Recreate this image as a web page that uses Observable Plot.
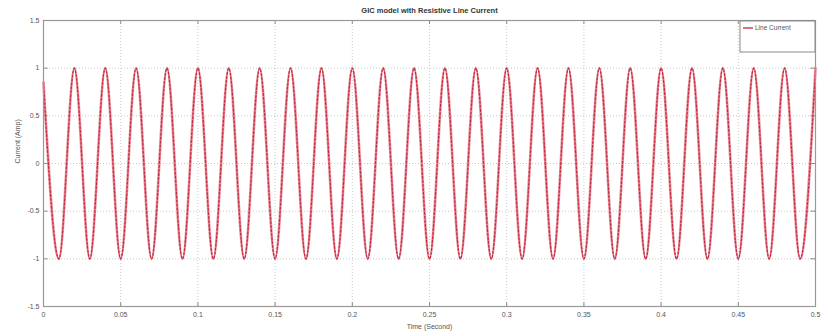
<!DOCTYPE html>
<html>
<head>
<meta charset="utf-8">
<script src="https://cdn.jsdelivr.net/npm/d3@7"></script>
<script src="https://cdn.jsdelivr.net/npm/@observablehq/plot@0.6"></script>
<style>
  html, body { margin: 0; padding: 0; background: #fff; }
  #chart { position: relative; width: 831px; height: 335px; }
  svg { font-family: "Liberation Sans", Arial, sans-serif; }
</style>
</head>
<body>
<div id="chart"></div>
<script>
// Line current waveform: start value, then alternating troughs and peaks
const timeSec = [0,
  0.01, 0.02, 0.03, 0.04, 0.05, 0.06, 0.07, 0.08, 0.09, 0.10,
  0.11, 0.12, 0.13, 0.14, 0.15, 0.16, 0.17, 0.18, 0.19, 0.20,
  0.21, 0.22, 0.23, 0.24, 0.25, 0.26, 0.27, 0.28, 0.29, 0.30,
  0.31, 0.32, 0.33, 0.34, 0.35, 0.36, 0.37, 0.38, 0.39, 0.40,
  0.41, 0.42, 0.43, 0.44, 0.45, 0.46, 0.47, 0.48, 0.49, 0.50];
const currentAmp = [0.85,
  -1, 1, -1, 1, -1, 1, -1, 1, -1, 1,
  -1, 1, -1, 1, -1, 1, -1, 1, -1, 1,
  -1, 1, -1, 1, -1, 1, -1, 1, -1, 1,
  -1, 1, -1, 1, -1, 1, -1, 1, -1, 1,
  -1, 1, -1, 1, -1, 1, -1, 1, -1, 1];
const xTicks = [0, 0.05, 0.1, 0.15, 0.2, 0.25, 0.3, 0.35, 0.4, 0.45, 0.5];
const xTickLabels = ["0", "0.05", "0.1", "0.15", "0.2", "0.25", "0.3", "0.35", "0.4", "0.45", "0.5"];
const yTicks = [-1.5, -1, -0.5, 0, 0.5, 1, 1.5];
const yTickLabels = ["-1.5", "-1", "-0.5", "0", "0.5", "1", "1.5"];
const titleText = "GIC model with Resistive Line Current";
const xLabel = "Time (Second)";
const yLabel = "Current (Amp)";
const seriesName = "Line Current";

const data = timeSec.map((t, i) => ({t, v: currentAmp[i]}));
const fmtX = d => xTickLabels[xTicks.indexOf(d)];
const fmtY = d => yTickLabels[yTicks.indexOf(d)];

const chart = Plot.plot({
  width: 831,
  height: 335,
  marginLeft: 43,
  marginRight: 16,
  marginTop: 20,
  marginBottom: 29,
  style: {fontSize: "7px", color: "#555", background: "#fff"},
  x: {domain: [0, 0.5], label: null},
  y: {domain: [-1.5, 1.5], label: null},
  marks: [
    Plot.gridX(xTicks, {stroke: "#bbb", strokeOpacity: 1, strokeDasharray: "1,2", strokeWidth: 0.8}),
    Plot.gridY(yTicks, {stroke: "#bbb", strokeOpacity: 1, strokeDasharray: "1,2", strokeWidth: 0.8}),
    // inward tick marks (MATLAB style) on bottom/top and left/right
    Plot.ruleX(xTicks, {x: d => d, y1: -1.5, y2: -1.46, stroke: "#888"}),
    Plot.ruleX(xTicks, {x: d => d, y1: 1.5, y2: 1.46, stroke: "#888"}),
    Plot.ruleY(yTicks, {y: d => d, x1: 0, x2: 0.003, stroke: "#888"}),
    Plot.ruleY(yTicks, {y: d => d, x1: 0.5, x2: 0.497, stroke: "#888"}),
    Plot.line(data, {x: "t", y: "v", curve: "monotone-x", stroke: "#ea8c98", strokeWidth: 2.6}),
    Plot.line(data, {x: "t", y: "v", curve: "monotone-x", stroke: "#c22a40", strokeWidth: 1.2, strokeDasharray: "2,2"}),
    Plot.frame({stroke: "#999", strokeWidth: 1.2}),
    Plot.axisX({ticks: xTicks, tickFormat: fmtX, tickSize: 0, tickPadding: 6, label: null, anchor: "bottom"}),
    Plot.axisY({ticks: yTicks, tickFormat: fmtY, tickSize: 0, tickPadding: 4, label: null, anchor: "left"}),
    Plot.text([titleText], {frameAnchor: "top", dy: -13, fontWeight: "bold", fontSize: 7.5, fill: "#333"}),
    Plot.text([xLabel], {frameAnchor: "bottom", dy: 22, fontSize: 7, fill: "#555"}),
    Plot.text([yLabel], {frameAnchor: "left", dx: -26, rotate: -90, fontSize: 7, fill: "#555"})
  ]
});
document.getElementById("chart").appendChild(chart);

// Legend box in the upper right corner of the plot frame
const svg = d3.select(chart);
const g = svg.append("g").attr("transform", "translate(740,21)");
g.append("rect").attr("width", 75).attr("height", 31).attr("fill", "#fff").attr("stroke", "#888").attr("stroke-width", 1);
g.append("line").attr("x1", 3).attr("x2", 13).attr("y1", 7).attr("y2", 7).attr("stroke", "#d9485c").attr("stroke-width", 1.6);
g.append("text").attr("x", 15).attr("y", 9.3).attr("text-anchor", "start").attr("font-size", 6.5).attr("fill", "#555").text(seriesName);
</script>
</body>
</html>
